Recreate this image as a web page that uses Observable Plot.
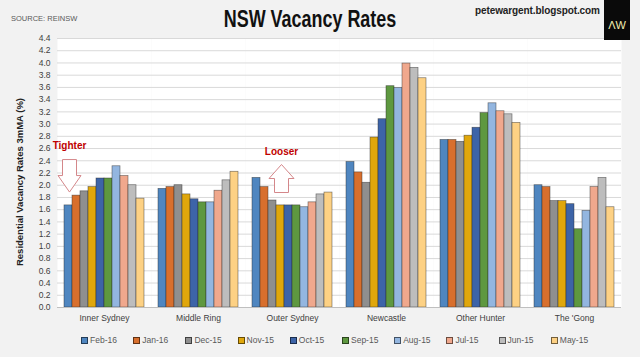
<!DOCTYPE html>
<html>
<head>
<meta charset="utf-8">
<script src="https://cdn.jsdelivr.net/npm/d3@7"></script>
<script src="https://cdn.jsdelivr.net/npm/@observablehq/plot@0.6"></script>
<style>
  html, body { margin: 0; padding: 0; }
  body { width: 640px; height: 357px; background: #f2f2f2; position: relative; overflow: hidden;
         font-family: "Liberation Sans Narrow", "Arial Narrow", "Liberation Sans", Arial, sans-serif; }
  #chart { position: absolute; left: 0; top: 0; }
  .abs { position: absolute; white-space: nowrap; }
  #title { left: 310px; top: 6px; transform: translateX(-50%) scaleX(0.78); font-size: 23px; font-weight: bold; color: #111; font-family: "Liberation Sans", Arial, sans-serif; }
  #source { left: 11px; top: 14px; font-size: 7.5px; color: #595959; }
  #url { left: 475px; top: 5px; font-size: 10px; font-weight: bold; color: #222; font-family: "Liberation Sans", Arial, sans-serif; letter-spacing: -0.1px; }
  #logo { left: 604px; top: 0; width: 26px; height: 40px; background: #0a0a0a; color: #f3eeb0; font-size: 11px; text-align: center; line-height: 50px; font-family: "Liberation Sans", Arial, sans-serif; }
  #ylabel { left: 19px; top: 182px; transform: translate(-50%, -50%) rotate(-90deg); font-size: 9.5px; font-weight: bold; color: #222; font-family: "Liberation Sans", Arial, sans-serif; }
  .leg { position: absolute; top: 335px; font-size: 8.5px; color: #595959; display: flex; align-items: center; }
  .sw { width: 5px; height: 5px; margin-right: 2px; border: 0.5px solid rgba(0,0,0,0.55); }
</style>
</head>
<body>
<div id="chart"></div>
<div class="abs" id="title">NSW Vacancy Rates</div>
<div class="abs" id="source">SOURCE: REINSW</div>
<div class="abs" id="url">petewargent.blogspot.com</div>
<div class="abs" id="logo">ΛW</div>
<div class="abs" id="ylabel">Residential Vacancy Rates 3mMA (%)</div>
<div id="legend"></div>
<script>
// ---- data ----
const groups = ["Inner Sydney", "Middle Ring", "Outer Sydney", "Newcastle", "Other Hunter", "The 'Gong"];
const series = ["Feb-16", "Jan-16", "Dec-15", "Nov-15", "Oct-15", "Sep-15", "Aug-15", "Jul-15", "Jun-15", "May-15"];
const colors = ["#4f86c0", "#d86f2d", "#8f8f8f", "#e0a70c", "#3d64a8", "#5e9840", "#93b6e0", "#f0a88d", "#bdbdbd", "#fdd184"];
const innerSydney = [1.67, 1.83, 1.90, 1.97, 2.11, 2.11, 2.31, 2.15, 2.00, 1.78];
const middleRing  = [1.94, 1.97, 2.00, 1.85, 1.77, 1.72, 1.72, 1.91, 2.08, 2.22];
const outerSydney = [2.12, 1.97, 1.75, 1.67, 1.67, 1.67, 1.64, 1.72, 1.85, 1.88];
const newcastle   = [2.38, 2.21, 2.04, 2.78, 3.08, 3.62, 3.59, 3.99, 3.92, 3.75];
const otherHunter = [2.74, 2.74, 2.71, 2.81, 2.94, 3.18, 3.34, 3.21, 3.16, 3.02];
const theGong     = [2.00, 1.97, 1.74, 1.74, 1.69, 1.28, 1.58, 1.97, 2.12, 1.64];
const yTicks = [0, 0.2, 0.4, 0.6, 0.8, 1.0, 1.2, 1.4, 1.6, 1.8, 2.0, 2.2, 2.4, 2.6, 2.8, 3.0, 3.2, 3.4, 3.6, 3.8, 4.0, 4.2, 4.4];

// annotations
const noteGroups = ["Inner Sydney", "Outer Sydney"];
const noteSeries = ["Feb-16", "Nov-15"];
const noteTexts  = ["Tighter", "Looser"];
const noteTextY  = [2.65, 2.54];
const noteArrowY = [2.15, 2.11];
const noteArrowDir = ["down", "up"];

// ---- build table ----
const values = [innerSydney, middleRing, outerSydney, newcastle, otherHunter, theGong];
const rows = groups.flatMap((g, i) => series.map((s, j) => ({group: g, series: s, value: values[i][j]})));
noteGroups.forEach((g, k) => {
  const r = rows.find(d => d.group === g && d.series === noteSeries[k]);
  r.note = noteTexts[k]; r.noteY = noteTextY[k]; r.arrowY = noteArrowY[k]; r.dir = noteArrowDir[k];
});

const arrowStroke = "#d4878a";
const downSvg = `<svg xmlns="http://www.w3.org/2000/svg" width="25" height="34" viewBox="0 0 25 34"><path d="M5.5,0.5 H19.5 V16.5 H24 L12.5,33 L1,16.5 H5.5 Z" fill="white" stroke="${arrowStroke}" stroke-width="1"/></svg>`;
const upSvg = `<svg xmlns="http://www.w3.org/2000/svg" width="27" height="29" viewBox="0 0 27 29"><path d="M6.5,28.5 H20.5 V14.5 H26 L13.5,0.5 L1,14.5 H6.5 Z" fill="white" stroke="${arrowStroke}" stroke-width="1"/></svg>`;
const toUrl = s => "data:image/svg+xml;charset=utf-8," + encodeURIComponent(s);

const font = "'Liberation Sans Narrow', 'Arial Narrow', 'Liberation Sans', Arial, sans-serif";

const plot = Plot.plot({
  width: 640,
  height: 330,
  marginTop: 38,
  marginBottom: 23,
  marginLeft: 55,
  marginRight: 18,
  style: {background: "transparent", fontFamily: font, fontSize: "8.5px", color: "#404040", overflow: "visible"},
  facet: {data: rows, x: "group", label: null},
  fx: {domain: groups, padding: 0, label: null, tickSize: 0, tickPadding: 7},
  x: {domain: series, paddingInner: 0, paddingOuter: 0.76, axis: null},
  y: {domain: [0, 4.4], ticks: yTicks, tickFormat: d3.format(".1f"), tickSize: 0, tickPadding: 7, label: null},
  color: {domain: series, range: colors},
  marks: [
    Plot.frame({fill: "white", stroke: null}),
    Plot.ruleY(yTicks, {stroke: "#d9d9d9", strokeWidth: 1}),
    Plot.barY(rows, {x: "series", y: "value", fill: "series", stroke: "#2a2a2a", strokeOpacity: 0.6, strokeWidth: 0.7}),
    Plot.ruleY([0], {stroke: "#bfbfbf"}),
    Plot.text(rows, {filter: d => d.note, x: "series", y: "noteY", text: "note", fill: "#c00000", fontWeight: "bold", fontSize: 10, dx: 1}),
    Plot.image(rows, {filter: d => d.dir === "down", x: "series", y: "arrowY", src: () => toUrl(downSvg), width: 25, height: 34, dx: 1}),
    Plot.image(rows, {filter: d => d.dir === "up", x: "series", y: "arrowY", src: () => toUrl(upSvg), width: 27, height: 29, dx: 1})
  ]
});
document.getElementById("chart").appendChild(plot);

// legend
const legend = document.getElementById("legend");
series.forEach((s, i) => {
  const item = document.createElement("div");
  item.className = "leg";
  item.style.left = (81 + i * 52.2) + "px";
  item.innerHTML = `<span class="sw" style="background:${colors[i]}"></span><span>${s}</span>`;
  legend.appendChild(item);
});
</script>
</body>
</html>
